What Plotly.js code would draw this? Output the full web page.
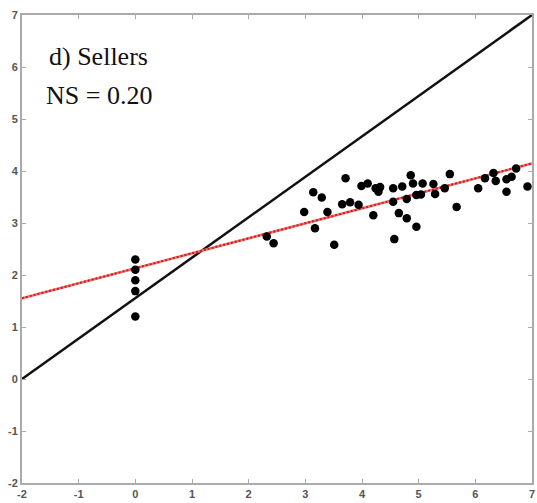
<!DOCTYPE html>
<html>
<head>
<meta charset="utf-8">
<script src="https://cdn.plot.ly/plotly-3.0.1.min.js"></script>
<style>html,body{margin:0;padding:0;background:#fff;}#chart{width:537px;height:503px;}</style>
</head>
<body>
<div id="chart"></div>
<script>
// Observed (x, y) pairs for sellers
const obsX = [0, 0, 0, 0, 0,
  2.32, 2.44, 2.98, 3.14, 3.29, 3.17, 3.39, 3.51, 3.71, 3.65, 3.79,
  3.94, 4.10, 3.99, 4.20, 4.24, 4.29, 4.32, 4.55, 4.55, 4.57, 4.65, 4.71,
  4.79, 4.79, 4.86, 4.90, 4.96, 4.96, 5.07, 5.04, 5.26, 5.29,
  5.46, 5.55, 5.67, 6.05, 6.17, 6.32, 6.36, 6.55, 6.64, 6.55, 6.72, 6.92];
const obsY = [2.30, 2.10, 1.90, 1.69, 1.20,
  2.74, 2.61, 3.21, 3.59, 3.49, 2.90, 3.21, 2.58, 3.86, 3.36, 3.40,
  3.35, 3.76, 3.71, 3.15, 3.67, 3.60, 3.69, 3.67, 3.41, 2.69, 3.19, 3.70,
  3.09, 3.46, 3.92, 3.76, 2.93, 3.54, 3.76, 3.55, 3.75, 3.56,
  3.67, 3.94, 3.31, 3.67, 3.86, 3.96, 3.81, 3.84, 3.89, 3.60, 4.05, 3.70];

// Reference (black) line endpoints
const refX = [-2, 7];
const refY = [0, 7];

// Fitted (red) line: slope and intercept
const fitSlope = 0.288;
const fitIntercept = 2.13;
const fitX = [-2, 7];
const fitY = fitX.map(x => fitIntercept + fitSlope * x);

const tickVals = [-2, -1, 0, 1, 2, 3, 4, 5, 6, 7];
const panelLabel = 'd) Sellers';
const nsLabel = 'NS = 0.20';

const traces = [
  {x: refX, y: refY, mode: 'lines', line: {color: '#111', width: 2.5}, hoverinfo: 'skip'},
  {x: fitX, y: fitY, mode: 'lines', line: {color: 'rgb(240,110,110)', width: 2.5}, hoverinfo: 'skip'},
  {x: fitX, y: fitY, mode: 'lines', line: {color: 'rgb(215,25,25)', width: 2, dash: '2px,2px'}, hoverinfo: 'skip'},
  {x: obsX, y: obsY, mode: 'markers', marker: {color: '#000', size: 8.5}}
];

const axisCommon = {
  range: [-2, 7], tickvals: tickVals, ticktext: tickVals.map(String),
  showgrid: false, zeroline: false, showline: true, mirror: 'ticks',
  linecolor: '#aaa', linewidth: 2, ticks: 'inside', ticklen: 4, tickcolor: '#aaa', tickwidth: 1,
  tickfont: {family: 'Arial, Liberation Sans, sans-serif', size: 11, color: '#555', weight: 'bold'}
};

const layout = {
  width: 537, height: 503,
  margin: {l: 22, r: 5, t: 15, b: 20},
  paper_bgcolor: '#fff', plot_bgcolor: '#fff',
  showlegend: false,
  xaxis: Object.assign({}, axisCommon),
  yaxis: Object.assign({}, axisCommon),
  annotations: [
    {text: panelLabel, xref: 'paper', yref: 'paper', x: 0.049, y: 0.912, xanchor: 'left', yanchor: 'middle',
     showarrow: false, font: {family: 'Liberation Serif, Times New Roman, serif', size: 26, color: '#111'}},
    {text: nsLabel, xref: 'paper', yref: 'paper', x: 0.043, y: 0.827, xanchor: 'left', yanchor: 'middle',
     showarrow: false, font: {family: 'Liberation Serif, Times New Roman, serif', size: 26, color: '#111'}}
  ]
};

Plotly.newPlot('chart', traces, layout, {displayModeBar: false, staticPlot: true});
</script>
</body>
</html>
